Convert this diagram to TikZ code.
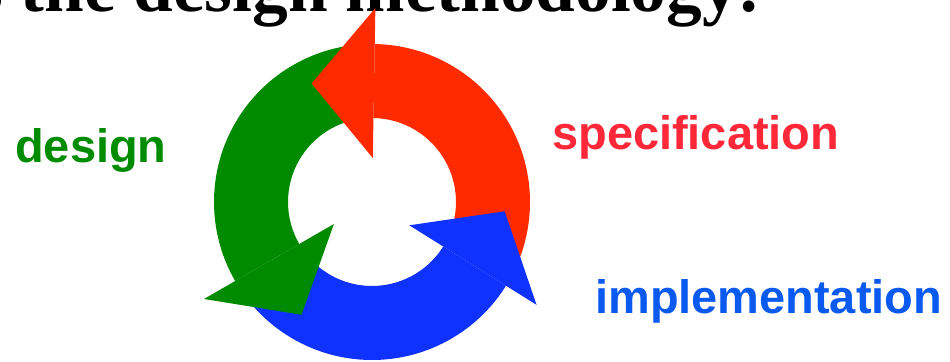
\documentclass[tikz,border=0pt]{standalone}
\usepackage{fontspec}
\newfontfamily\titlefont{Liberation Serif}
\newfontfamily\labelfont{Liberation Sans}
\definecolor{arrowgreen}{RGB}{0,138,0}
\definecolor{arrowred}{RGB}{255,42,0}
\definecolor{arrowblue}{RGB}{16,50,255}
\definecolor{labelgreen}{RGB}{0,140,0}
\definecolor{labelred}{RGB}{255,40,56}
\definecolor{labelblue}{RGB}{10,90,240}
\newcommand{\ringpart}[3]{% colour, start angle, end angle
  \fill[#1] (#2:84) -- (#2:158) arc[start angle=#2, end angle=#3, radius=158]
    -- (#3:84) arc[start angle=#3, end angle=#2, radius=84] -- cycle;}
\newcommand{\arrowhead}[2]{% colour, base angle
  \fill[#1] (#2:44) -- (#2:194) -- ({#2+28}:133) -- cycle;}
\tikzset{
  lbl/.style={inner sep=0pt, font=\labelfont\bfseries\fontsize{35.2pt}{40pt}\selectfont},
  ttl/.style={inner sep=0pt, font=\titlefont\bfseries\fontsize{53.5pt}{60pt}\selectfont}
}
\begin{document}
\begin{tikzpicture}[x=0.75pt, y=0.75pt]
\useasboundingbox (0,0) rectangle (950,361);
\clip (0,0) rectangle (950,361);
\fill[white] (0,0) rectangle (950,361);
\node[ttl, anchor=base east] (title) at (762,349) {s the design methodology:};
\begin{scope}[shift={(372,159)}]
  \coordinate (c) at (0,0);
  % bodies
  \ringpart{arrowred}{-25}{89}
  \ringpart{arrowgreen}{95}{210}
  \ringpart{arrowblue}{215}{328}
  % heads
  \arrowhead{arrowred}{89}
  \arrowhead{arrowgreen}{210}
  \arrowhead{arrowblue}{328}
\end{scope}
\node[lbl, text=labelgreen, anchor=base west] (design) at (15,198) {design};
\node[lbl, text=labelred, anchor=base west] (spec) at (552,211) {specification};
\node[lbl, text=labelblue, anchor=base west] (impl) at (595,48) {implementation};
\end{tikzpicture}
\end{document}
